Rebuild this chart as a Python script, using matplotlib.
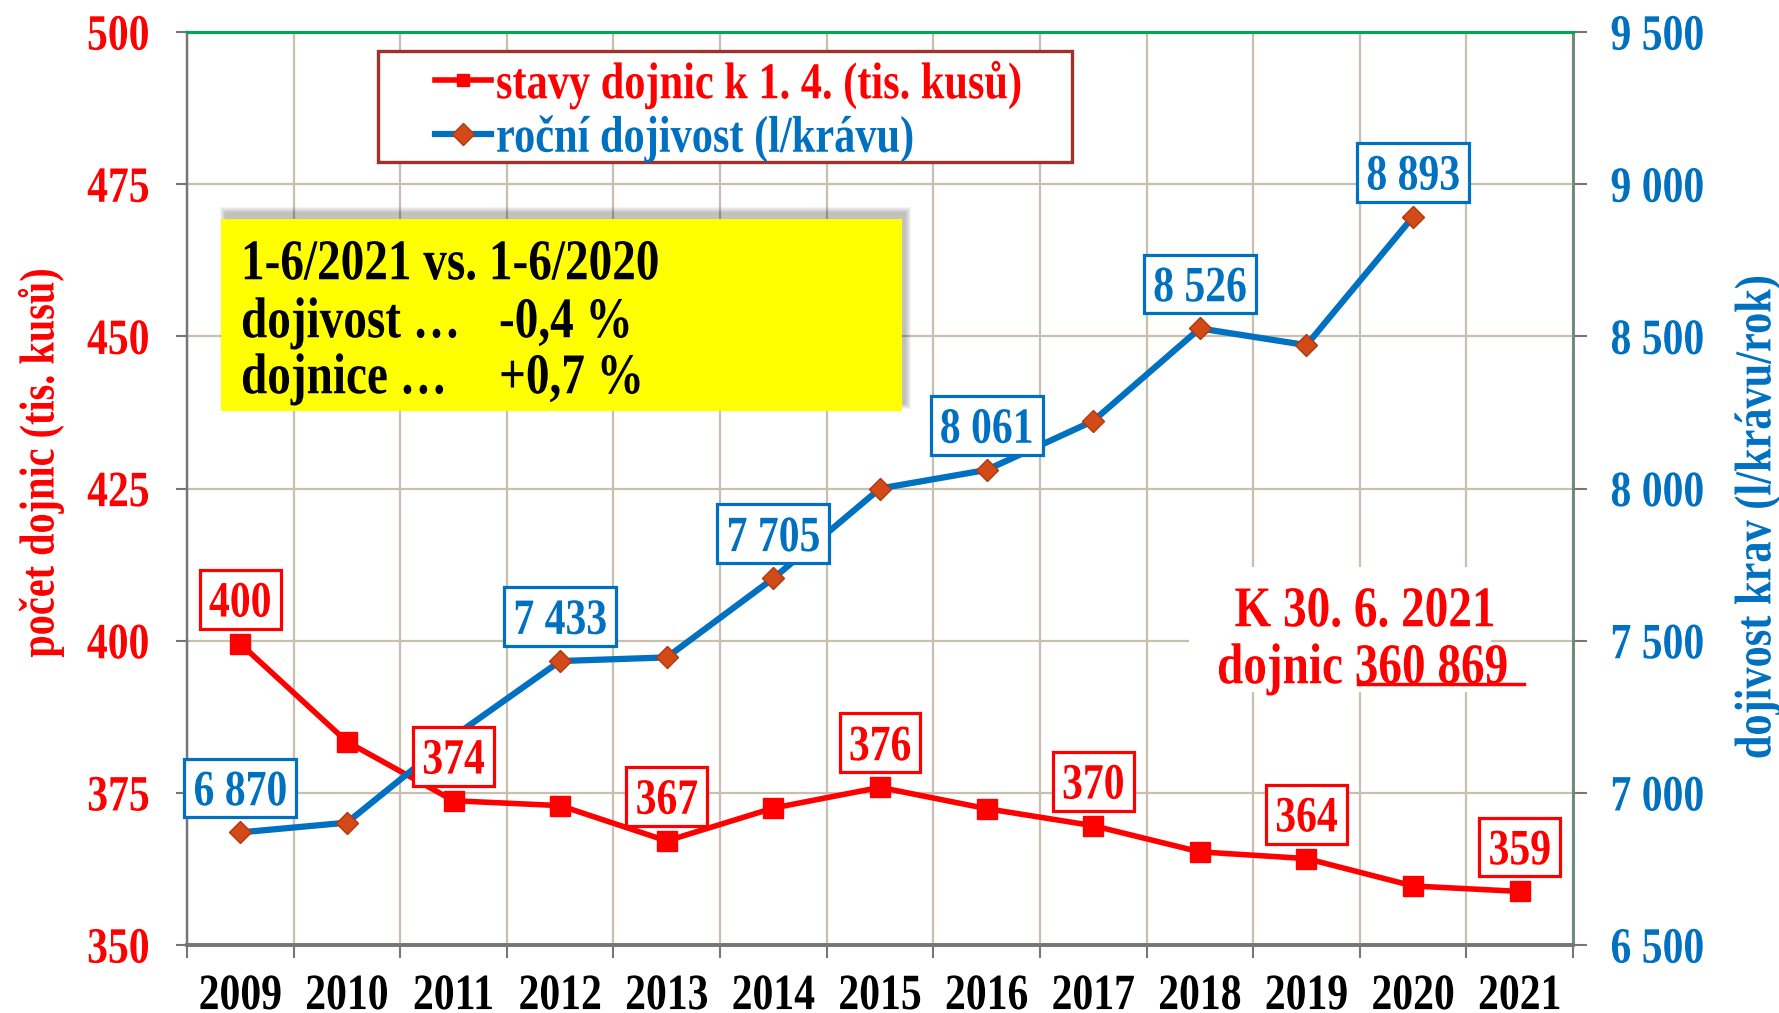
import numpy as np
import matplotlib
matplotlib.use('Agg')
import matplotlib.pyplot as plt
from matplotlib.patches import Rectangle
from matplotlib.lines import Line2D
from matplotlib.path import Path
from matplotlib.transforms import Affine2D
from matplotlib.patheffects import AbstractPathEffect

# ---------------- data ----------------
years = ['2009', '2010', '2011', '2012', '2013', '2014', '2015',
         '2016', '2017', '2018', '2019', '2020', '2021']
cows = [399.5, 383.4, 373.7, 372.9, 367.1, 372.5, 375.9,
        372.4, 369.6, 365.3, 364.2, 359.7, 358.8]
cow_labels = ['400', None, '374', None, '367', None, '376',
              None, '370', None, '364', None, '359']
milk = [6870, 6902, 7185, 7433, 7445, 7705, 8000,
        8061, 8222, 8526, 8471, 8893]
milk_labels = ['6 870', None, None, '7 433', None, '7 705', None,
               '8 061', None, '8 526', None, '8 893']
left_ticks = [350, 375, 400, 425, 450, 475, 500]
right_ticks = [6500, 7000, 7500, 8000, 8500, 9000, 9500]
right_tick_labels = ['6 500', '7 000', '7 500', '8 000', '8 500', '9 000', '9 500']
legend_labels = ['stavy dojnic k 1. 4. (tis. kusů)', 'roční dojivost (l/krávu)']
left_title = 'počet dojnic (tis. kusů)'
right_title = 'dojivost krav (l/krávu/rok)'
box_lines = [('1-6/2021 vs. 1-6/2020', ''), ('dojivost …', '-0,4 %'), ('dojnice …', '+0,7 %')]
note_line1 = 'K 30. 6. 2021'
note_line2 = 'dojnic 360 869'

# ---------------- style ----------------
plt.rcParams['font.family'] = ['Liberation Serif', 'DejaVu Serif']
plt.rcParams['font.weight'] = 'bold'
RED = '#ff0000'
BLUE = '#0070c0'
GRID = '#c9bfad'
GRAY = '#767676'


class VStretch(AbstractPathEffect):
    """Stretch glyphs vertically (in glyph space) around mid cap height."""
    def __init__(self, sy=1.22, c=34.0, shift=0.0):
        super().__init__()
        self._t = Affine2D().translate(0, -c).scale(1, sy).translate(0, c + shift)

    def draw_path(self, renderer, gc, tpath, affine, rgbFace=None):
        renderer.draw_path(gc, tpath, self._t + affine, rgbFace)


STR = [VStretch()]
STR_C = [VStretch(shift=-10)]


def label_box(x0, y0, width, height, mutation_size):
    px = 0.22 * mutation_size
    py = 0.25 * mutation_size
    xa, ya = x0 - px, y0 - py
    xb, yb = x0 + width + px, y0 + height + py
    return Path([(xa, ya), (xb, ya), (xb, yb), (xa, yb), (xa, ya)], closed=True)


W, H = 1779, 1013
fig = plt.figure(figsize=(W / 100, H / 100), dpi=100)
fx = lambda px: px / W
fy = lambda py: 1 - py / H

L, R, T, B = 187, 1573, 32, 945
ax1 = fig.add_axes([fx(L), fy(B), (R - L) / W, (B - T) / H])
ax2 = ax1.twinx()

x = np.arange(len(years)) + 0.5
ax1.set_xlim(0, len(years))
ax1.set_ylim(350, 500)
ax2.set_ylim(6500, 9500)

ax1.plot(x, cows, color=RED, lw=4, marker='s', ms=14, zorder=3)
ax2.plot(x[:len(milk)], milk, color=BLUE, lw=4.5, marker='D', ms=11,
         mfc='#d24a17', mec='#b0380f', mew=1, zorder=3)

# grid / ticks
ax1.set_xticks(np.arange(0, len(years) + 1))
ax1.set_xticklabels([])
ax1.set_xticks(x, minor=True)
ax1.set_xticklabels(years, minor=True)
ax1.grid(axis='x', which='major', color=GRID, lw=1.6, zorder=0)
ax1.set_yticks(left_ticks)
ax1.grid(axis='y', which='major', color=GRID, lw=1.6, zorder=0)
ax1.set_axisbelow(True)

ax1.tick_params(axis='x', which='major', length=9, width=1.5, color=GRAY, direction='out')
ax1.tick_params(axis='x', which='minor', length=0, pad=23, labelsize=30, labelcolor='black')
ax1.tick_params(axis='y', length=8, width=1.5, color=GRAY, pad=19, labelsize=30, labelcolor=RED)

ax2.set_yticks(right_ticks)
ax2.set_yticklabels(right_tick_labels)
ax2.tick_params(axis='y', length=10, width=1.5, color=GRAY, pad=17, labelsize=30, labelcolor=BLUE)

for t in ax1.get_xticklabels(minor=True) + ax1.get_yticklabels() + ax2.get_yticklabels():
    t.set_path_effects(STR)

for a in (ax1, ax2):
    a.spines['top'].set_color('#00a651')
    a.spines['top'].set_linewidth(2.2)
    a.spines['left'].set_color(GRAY)
    a.spines['left'].set_linewidth(1.6)
    a.spines['right'].set_color('#6b8a7a')
    a.spines['right'].set_linewidth(1.8)
    a.spines['bottom'].set_color(GRAY)
    a.spines['bottom'].set_linewidth(2.6)

# data labels
for i, t in enumerate(cow_labels):
    if t:
        ax2.annotate(t, xy=(x[i], cows[i]), xycoords=ax1.transData,
                     xytext=(0, 32), textcoords='offset points',
                     ha='center', va='center', fontsize=30, color=RED, zorder=6,
                     path_effects=STR_C,
                     bbox=dict(boxstyle=label_box, fc='white', ec=RED, lw=2.3))
for i, t in enumerate(milk_labels):
    if t:
        ax2.annotate(t, xy=(x[i], milk[i]), xycoords='data',
                     xytext=(0, 32), textcoords='offset points',
                     ha='center', va='center', fontsize=30, color=BLUE, zorder=6,
                     path_effects=STR_C,
                     bbox=dict(boxstyle=label_box, fc='white', ec=BLUE, lw=2.3))

# axis titles
fig.text(fx(40), fy(463), left_title, rotation=90, ha='center', va='center',
         color=RED, fontsize=29, path_effects=STR)
fig.text(fx(1757), fy(517), right_title, rotation=90, ha='center', va='center',
         color=BLUE, fontsize=30.5, path_effects=STR)

# legend with frame
fig.patches.append(Rectangle((fx(378), fy(162)), (1072 - 378) / W, (162 - 51) / H,
                             transform=fig.transFigure, fc='white', ec='#a0322d',
                             lw=2.4, zorder=1))
proxy_red = Line2D([], [], color=RED, lw=4, marker='s', ms=9)
proxy_blue = Line2D([], [], color=BLUE, lw=4.5, marker='D', ms=11,
                    mfc='#d24a17', mec='#b0380f', mew=1)
leg = fig.legend([proxy_red, proxy_blue], legend_labels, loc='upper left',
                 bbox_to_anchor=(fx(435), fy(64)), bbox_transform=fig.transFigure,
                 frameon=False, fontsize=30.5, handlelength=1.32, handletextpad=0.12,
                 borderpad=0, labelspacing=0.35, borderaxespad=0)
leg.set_zorder(6)
for t, c in zip(leg.get_texts(), [RED, BLUE]):
    t.set_color(c)
    t.set_path_effects(STR)

# yellow box with soft shadow
for k in range(6):
    fig.patches.append(Rectangle((fx(221 + 4 - k), fy(411 - 7 + k)),
                                 (902 - 221 + 2 * k) / W, (411 - 219 + 2 * k) / H,
                                 transform=fig.transFigure, fc='black', ec='none',
                                 alpha=0.045, zorder=1.5))
fig.patches.append(Rectangle((fx(221), fy(411)), (902 - 221) / W, (411 - 219) / H,
                             transform=fig.transFigure, fc='#ffff00', ec='none', zorder=2))
for (left, right), yy in zip(box_lines, [260, 318, 374]):
    fig.text(fx(241), fy(yy), left, ha='left', va='center', fontsize=34, color='black',
             zorder=3, path_effects=STR_C)
    if right:
        fig.text(fx(499), fy(yy), right, ha='left', va='center', fontsize=34,
                 color='black', zorder=3, path_effects=STR_C)

# note with white background
fig.patches.append(Rectangle((fx(1189), fy(692)), (1491 - 1189) / W, (692 - 567) / H,
                             transform=fig.transFigure, fc='white', ec='none', zorder=2))
fig.text(fx(1365), fy(607), note_line1, ha='center', va='center', fontsize=34, color=RED,
         zorder=3, path_effects=STR_C)
fig.text(fx(1217), fy(664), note_line2, ha='left', va='center', fontsize=34, color=RED,
         zorder=3, path_effects=STR_C)
fig.lines.append(Line2D([fx(1358), fx(1524)], [fy(684), fy(684)], transform=fig.transFigure,
                        color=RED, lw=2.5, zorder=3))

fig.savefig('out.png', dpi=100)
